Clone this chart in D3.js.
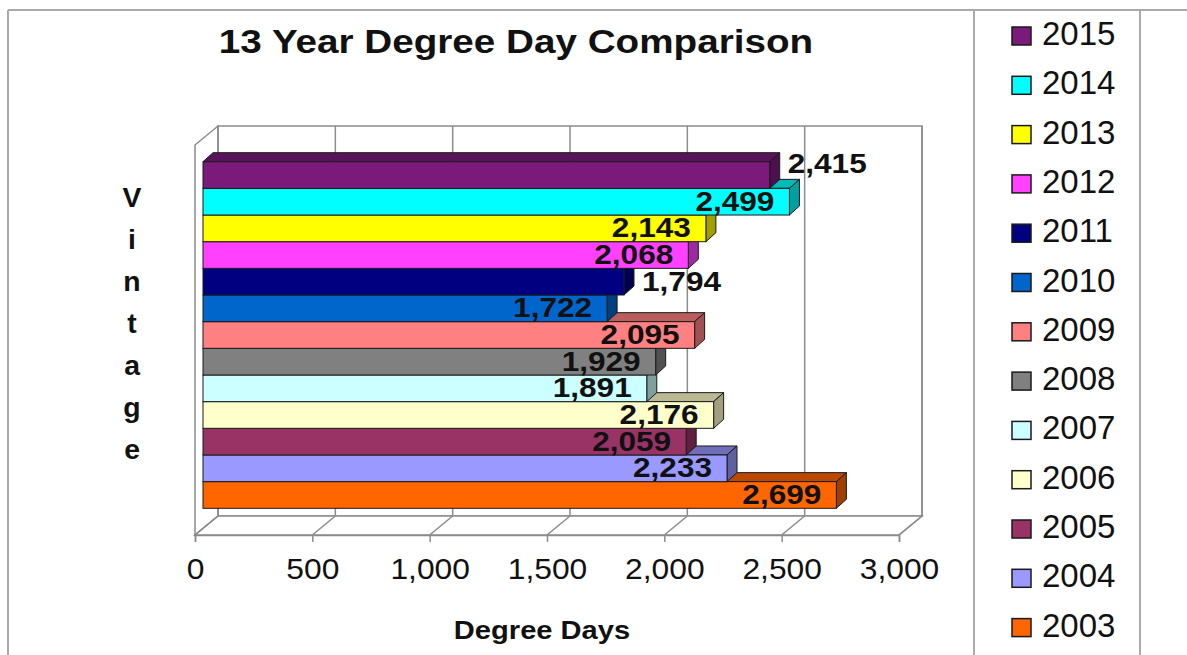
<!DOCTYPE html>
<html>
<head>
<meta charset="utf-8">
<script src="https://cdn.jsdelivr.net/npm/d3@7"></script>
<style>
  body { margin: 0; background: #fff; }
  text { font-family: "Liberation Sans", Arial, sans-serif; fill: #111; }
</style>
</head>
<body>
<div id="chart"></div>
<script>
// Data (top bar first)
const years = ["2015", "2014", "2013", "2012", "2011", "2010", "2009", "2008", "2007", "2006", "2005", "2004", "2003"];
const degreeDays = [2415, 2499, 2143, 2068, 1794, 1722, 2095, 1929, 1891, 2176, 2059, 2233, 2699];
const barColors = ["#7b1a7b", "#00ffff", "#ffff00", "#ff40ff", "#000080", "#0066cc", "#ff8080",
                   "#808080", "#ccffff", "#ffffcc", "#993366", "#9999ff", "#ff6600"];
const xTicks = [0, 500, 1000, 1500, 2000, 2500, 3000];
// labels Excel put past the bar end (value = vertical nudge)
const outsideLabels = { "2015": -12, "2011": -1 };

const data = years.map((y, i) => ({ year: y, value: degreeDays[i], color: barColors[i] }));

const W = 1187, H = 655;
const svg = d3.select("#chart").append("svg")
    .attr("width", W)
    .attr("height", H);

// 3D box geometry
const wall = { left: 195, right: 899, top: 145, bottom: 535, dx: 23, dy: -19 };
const barDepth = { dx: 10, dy: -9 };

const xFront = d3.scaleLinear().domain([0, 3000]).range([wall.left, wall.right]);
const xBar = d3.scaleLinear().domain([0, 3000]).range([203, 907]);
const y = d3.scaleBand().domain(years).range([161.7, 508.3]).padding(0);

const gridColor = "#8c8c8c";

// helper: text with a slight horizontal stretch, like the original
function addText(parent, x, yy, str, size, weight, k, anchor) {
    return parent.append("text")
        .attr("transform", `translate(${x},${yy}) scale(${k},1)`)
        .attr("text-anchor", anchor || "middle")
        .style("font-size", size + "px")
        .style("font-weight", weight)
        .text(str);
}

// outer frame + legend box lines
svg.append("line").attr("x1", 8).attr("x2", W).attr("y1", 10).attr("y2", 10)
    .attr("stroke", "#aaa").attr("stroke-width", 2);
svg.append("line").attr("x1", 8).attr("x2", 8).attr("y1", 10).attr("y2", H)
    .attr("stroke", "#aaa").attr("stroke-width", 2);
[974, 1140].forEach(x => {
    svg.append("line").attr("x1", x).attr("x2", x).attr("y1", 10).attr("y2", H)
        .attr("stroke", "#aaa").attr("stroke-width", 2);
});

// walls
const box = svg.append("g").attr("fill", "#fff").attr("stroke", gridColor).attr("stroke-width", 1.5);
const backL = wall.left + wall.dx, backR = wall.right + wall.dx;
const backT = wall.top + wall.dy, backB = wall.bottom + wall.dy;

box.append("rect")
    .attr("x", backL).attr("y", backT)
    .attr("width", backR - backL).attr("height", backB - backT);
box.append("polygon")
    .attr("points", [[wall.left, wall.top], [backL, backT], [backL, backB], [wall.left, wall.bottom]].join(" "));
box.append("polygon")
    .attr("points", [[wall.left, wall.bottom], [backL, backB], [backR, backB], [wall.right, wall.bottom]].join(" "));

// gridlines on the back wall and floor
xTicks.forEach(t => {
    const xf = xFront(t);
    box.append("line")
        .attr("x1", xf + wall.dx).attr("x2", xf + wall.dx)
        .attr("y1", backT).attr("y2", backB);
    box.append("line")
        .attr("x1", xf).attr("x2", xf + wall.dx)
        .attr("y1", wall.bottom).attr("y2", backB);
});

// x axis on the front floor edge
const xAxis = svg.append("g")
    .attr("transform", `translate(0,${wall.bottom})`)
    .call(d3.axisBottom(xFront).tickValues(xTicks).tickFormat(d3.format(",")).tickSize(7).tickPadding(16));
xAxis.select(".domain").attr("stroke", gridColor).attr("stroke-width", 1.5);
xAxis.selectAll(".tick line").attr("stroke", gridColor).attr("stroke-width", 1.5);
xAxis.selectAll(".tick text")
    .attr("transform", "scale(1.06,1)")
    .style("font-size", "30px")
    .style("font-family", "'Liberation Sans', Arial, sans-serif")
    .attr("fill", "#111");

// bars, drawn bottom-up so upper bars hide the top faces below them
const bars = svg.append("g").attr("stroke", "#1a1a1a").attr("stroke-width", 1);
data.slice().reverse().forEach(d => {
    const x0 = xBar(0), x1 = xBar(d.value);
    const y0 = y(d.year), y1 = y0 + y.bandwidth();
    const c = d3.color(d.color);
    bars.append("polygon")
        .attr("points", [[x0, y0], [x1, y0], [x1 + barDepth.dx, y0 + barDepth.dy], [x0 + barDepth.dx, y0 + barDepth.dy]].join(" "))
        .attr("fill", c.darker(0.9));
    bars.append("polygon")
        .attr("points", [[x1, y0], [x1 + barDepth.dx, y0 + barDepth.dy], [x1 + barDepth.dx, y1 + barDepth.dy], [x1, y1]].join(" "))
        .attr("fill", c.darker(1.3));
    bars.append("rect")
        .attr("x", x0).attr("y", y0)
        .attr("width", x1 - x0).attr("height", y1 - y0)
        .attr("fill", d.color);
});

// value labels
const labels = svg.append("g");
data.forEach(d => {
    const end = xBar(d.value);
    const cy = y(d.year) + y.bandwidth() / 2;
    const fmt = d3.format(",")(d.value);
    if (d.year in outsideLabels) {
        addText(labels, end + 18, cy + 10 + outsideLabels[d.year], fmt, 27, "bold", 1.17, "start");
    } else {
        addText(labels, end - 15, cy + 9, fmt, 27, "bold", 1.17, "end");
    }
});

// title and axis titles
addText(svg, 516, 53, "13 Year Degree Day Comparison", 34, "bold", 1.137);
addText(svg, 542, 639, "Degree Days", 26, "bold", 1.12);
"Vintage".split("").forEach((ch, i) => {
    addText(svg, 132, 207 + i * 42, ch, 27, "bold", 1.05);
});

// legend
const legend = svg.append("g");
data.forEach((d, i) => {
    const base = 45 + i * 49.3;
    legend.append("rect")
        .attr("x", 1012).attr("y", base - 18)
        .attr("width", 19).attr("height", 18)
        .attr("fill", d.color)
        .attr("stroke", "#1a1a1a").attr("stroke-width", 1.5);
    legend.append("text")
        .attr("x", 1042).attr("y", base)
        .style("font-size", "33px")
        .text(d.year);
});
</script>
</body>
</html>
